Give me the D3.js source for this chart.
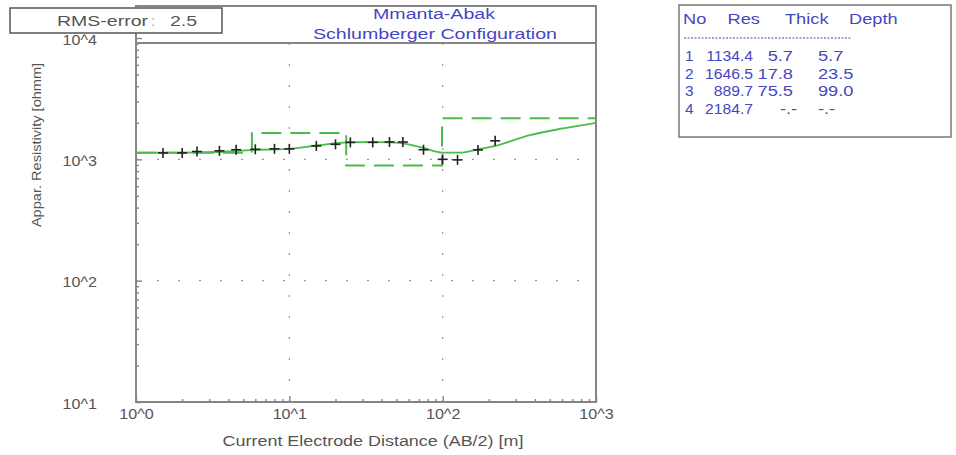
<!DOCTYPE html>
<html>
<head>
<meta charset="utf-8">
<script src="https://cdn.jsdelivr.net/npm/d3@7"></script>
<style>
  body { margin: 0; background: #fff; }
  svg { display: block; font-family: "Liberation Sans", Arial, sans-serif; }
</style>
</head>
<body>
<svg id="chart" width="956" height="455"></svg>
<script>
// field data: AB/2 [m] and apparent resistivity [ohmm]
var abHalf = [1.5, 2, 2.5, 3.5, 4.5, 6, 8, 10, 15, 20, 25, 35, 45, 55, 75, 100, 125, 170, 220];
var rhoObs = [1130, 1130, 1160, 1175, 1200, 1210, 1220, 1220, 1290, 1330, 1380, 1380, 1390, 1390, 1200, 1000, 990, 1195, 1420];

// calculated curve
var calcX = [1, 2, 4, 6, 10, 15, 24, 35, 46, 59, 75, 100, 130, 170, 225, 370, 610, 1000];
var calcRho = [1135, 1137, 1160, 1195, 1220, 1300, 1380, 1390, 1380, 1335, 1240, 1135, 1135, 1210, 1300, 1580, 1800, 2000];

// layer model
var layerNo = [1, 2, 3, 4];
var layerRes = [1134.4, 1646.5, 889.7, 2184.7];
var layerThick = ["5.7", "17.8", "75.5", "-.-"];
var layerDepth = ["5.7", "23.5", "99.0", "-.-"];

var xTicks = [1, 10, 100, 1000];
var yTicks = [10, 100, 1000, 10000];
var rmsError = "2.5";
var siteName = "Mmanta-Abak";

var svg = d3.select("#chart");
var grey = "#858585", txt = "#555", blue = "#4646c0", green = "#4dba4d";

var mLeft = 136, mRight = 596, mTop = 6, titleLine = 43, mBottom = 402;

var x = d3.scaleLog().domain([1, 1000]).range([mLeft, mRight]);
var y = d3.scaleLog().domain([10, 10000]).range([mBottom, 38]);

var sup = function (d) { return "10^" + Math.round(Math.log10(d)); };

// the picture is stretched sideways, so text gets a fixed width
function stretch(sel, f) {
    sel.each(function () {
        var len = this.getComputedTextLength();
        d3.select(this).attr("textLength", len * f).attr("lengthAdjust", "spacingAndGlyphs");
    });
    return sel;
}

// dotted grid at decades
svg.append("g").selectAll("line").data([10, 100]).enter().append("line")
    .attr("x1", d => x(d)).attr("x2", d => x(d))
    .attr("y1", titleLine).attr("y2", mBottom)
    .attr("stroke", "#9a9a9a").attr("stroke-width", 1.2).attr("stroke-dasharray", "2,19");
svg.append("g").selectAll("line").data([100, 1000]).enter().append("line")
    .attr("x1", mLeft).attr("x2", mRight)
    .attr("y1", d => y(d)).attr("y2", d => y(d))
    .attr("stroke", "#9a9a9a").attr("stroke-width", 1.2).attr("stroke-dasharray", "2,19");

// minor ticks
var minorX = [], minorY = [];
[1, 10, 100].forEach(function (b) { for (var i = 2; i < 10; i++) minorX.push(b * i); });
[10, 100, 1000].forEach(function (b) { for (var i = 2; i < 10; i++) minorY.push(b * i); });

var xAxis = d3.axisBottom(x).tickValues(xTicks).tickSize(-6).tickPadding(7).tickFormat(sup);
var yAxis = d3.axisLeft(y).tickValues(yTicks).tickSize(-6).tickPadding(39).tickFormat(sup);

var gx = svg.append("g").attr("transform", "translate(0," + mBottom + ")").call(xAxis);
gx.append("g").call(d3.axisBottom(x).tickValues(minorX).tickSize(-3).tickFormat(""));
var gy = svg.append("g").attr("transform", "translate(" + mLeft + ",0)").call(yAxis);
gy.append("g").call(d3.axisLeft(y).tickValues(minorY).tickSize(-3).tickFormat(""));

[gx, gy].forEach(function (g) {
    g.selectAll(".domain").remove();
    g.selectAll("line").attr("stroke", grey).attr("stroke-width", 1.4);
    g.selectAll("text").attr("fill", txt).attr("font-size", 14).attr("font-family", "Liberation Sans, Arial, sans-serif");
    stretch(g.selectAll(".tick text"), 1.15);
});
gy.selectAll(".tick text").attr("dy", "0.45em");

// frame
var frame = svg.append("g").attr("stroke", grey).attr("stroke-width", 2).attr("fill", "none");
frame.append("path").attr("d", "M" + mLeft + "," + mBottom + "V" + mTop + "H" + mRight + "V" + mBottom + "Z");
frame.append("line").attr("x1", mLeft).attr("x2", mRight).attr("y1", titleLine).attr("y2", titleLine);

// layer model (dashed step)
var steps = [[1, layerRes[0]]];
var depthNum = layerDepth.slice(0, 3).map(Number);
depthNum.forEach(function (dd, i) {
    steps.push([dd, layerRes[i]]);
    steps.push([dd, layerRes[i + 1]]);
});
steps.push([1000, layerRes[3]]);
svg.append("path").datum(steps)
    .attr("d", d3.line().x(d => x(d[0])).y(d => y(d[1])))
    .attr("fill", "none").attr("stroke", green).attr("stroke-width", 2)
    .attr("stroke-dasharray", "20,9");

// calculated curve
var calc = calcX.map((d, i) => [d, calcRho[i]]);
svg.append("path").datum(calc)
    .attr("d", d3.line().x(d => x(d[0])).y(d => y(d[1])).curve(d3.curveMonotoneX))
    .attr("fill", "none").attr("stroke", green).attr("stroke-width", 1.8);

// observed points
var pts = svg.append("g").attr("stroke", "#222").attr("stroke-width", 1.6);
abHalf.forEach(function (d, i) {
    var px = x(d), py = y(rhoObs[i]);
    pts.append("line").attr("x1", px - 5).attr("x2", px + 5).attr("y1", py).attr("y2", py);
    pts.append("line").attr("x1", px).attr("x2", px).attr("y1", py - 5).attr("y2", py + 5);
});

// titles
stretch(svg.append("text").attr("x", 434).attr("y", 19).attr("text-anchor", "middle")
    .attr("fill", blue).attr("font-size", 14).text(siteName), 1.4);
stretch(svg.append("text").attr("x", 435).attr("y", 39).attr("text-anchor", "middle")
    .attr("fill", blue).attr("font-size", 14).text("Schlumberger Configuration"), 1.4);

// RMS box
svg.append("rect").attr("x", 10).attr("y", 8).attr("width", 212).attr("height", 25)
    .attr("fill", "#fff").attr("stroke", "#555").attr("stroke-width", 1.5);
stretch(svg.append("text").attr("x", 57).attr("y", 26).attr("fill", txt).attr("font-size", 15).text("RMS-error"), 1.3);
svg.append("text").attr("x", 151).attr("y", 26).attr("fill", "#aaa").attr("font-size", 15).text(":");
stretch(svg.append("text").attr("x", 170).attr("y", 26).attr("fill", txt).attr("font-size", 15).text(rmsError), 1.3);

// axis titles
stretch(svg.append("text").attr("transform", "translate(41,145) rotate(-90)").attr("text-anchor", "middle")
    .attr("fill", txt).attr("font-size", 13).text("Appar. Resistivity [ohmm]"), 1.12);
stretch(svg.append("text").attr("x", 373).attr("y", 446).attr("text-anchor", "middle")
    .attr("fill", txt).attr("font-size", 14).text("Current Electrode Distance (AB/2) [m]"), 1.28);

// layer table
var tb = svg.append("g");
tb.append("rect").attr("x", 679).attr("y", 5).attr("width", 272).attr("height", 132)
    .attr("fill", "#fff").attr("stroke", "#777").attr("stroke-width", 1.5);
var hdr = [["No", 683, "start"], ["Res", 760, "end"], ["Thick", 785, "start"], ["Depth", 849, "start"]];
hdr.forEach(function (h) {
    stretch(tb.append("text").attr("x", h[1]).attr("y", 24).attr("text-anchor", h[2])
        .attr("fill", blue).attr("font-size", 14).text(h[0]), 1.3);
});
tb.append("line").attr("x1", 684).attr("x2", 851).attr("y1", 38).attr("y2", 38)
    .attr("stroke", blue).attr("stroke-width", 1).attr("stroke-dasharray", "2,1.5");
layerNo.forEach(function (n, i) {
    var ty = 61 + i * 17.5;
    var cell = function (tx, anchor, s, f) {
        return stretch(tb.append("text").attr("x", tx).attr("y", ty).attr("text-anchor", anchor)
            .attr("fill", blue).attr("font-size", 14).text(s), f || 1.3);
    };
    cell(685, "start", n, 1.1);
    cell(753, "end", layerRes[i].toFixed(1), 1.12);
    if (layerThick[i] === "-.-") cell(780, "start", layerThick[i]);
    else cell(793, "end", layerThick[i]);
    cell(818, "start", layerDepth[i]);
});
</script>
</body>
</html>
